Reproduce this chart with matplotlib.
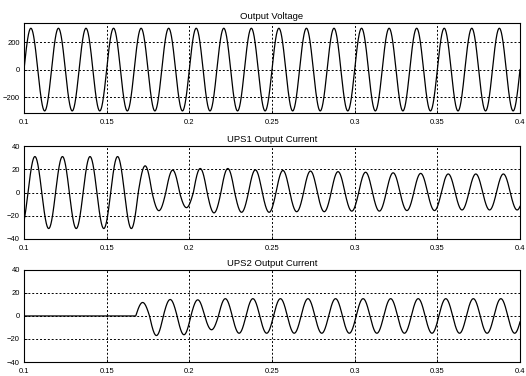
import numpy as np
import matplotlib
matplotlib.use("Agg")
import matplotlib.pyplot as plt

plt.rcParams["font.family"] = ["Liberation Sans", "DejaVu Sans"]

### Data

titles = ["Output Voltage", "UPS1 Output Current", "UPS2 Output Current"]
xticks = [0.1, 0.15, 0.2, 0.25, 0.3, 0.35, 0.4]
xticklabels = ["0.1", "0.15", "0.2", "0.25", "0.3", "0.35", "0.4"]
yticks_v = [-200, 0, 200]
yticks_i = [-40, -20, 0, 20, 40]

freq = 60.0            # Hz
v_amp = 300.0          # output voltage peak

# UPS1: rising zero crossing reference and signed peak of each half cycle
ups1_t0 = 0.0941
ups1_peaks = [-31, 31, -31, 31, -31, 31, -31, 31, -31, 23,
              -15.6, 19.3, -13, 20.7, -17.5, 20.7, -17, 19.5, -17, 19,
              -16.5, 18.5, -16.5, 18, -16, 17.5, -16, 17, -15.5, 16.5,
              -15.5, 16, -15, 16, -15, 16, -15, 16]

# UPS2: off until ~0.1676 s, then joins in
ups2_t0 = 0.0926
ups2_peaks = [0, 0, 0, 0, 0, 0, 0, 0, 0, 11.7,
              -17, 14.3, -16.3, 14, -12, 15, -15, 15, -15, 15,
              -15, 15, -15, 15, -15, 15, -15, 15, -15, 15,
              -15, 15, -15, 15, -15, 15, -15, 15]

t = np.linspace(0.1, 0.4, 4001)


def half_cycles(t, t0, peaks):
    half = 1.0 / (2 * freq)
    k = np.floor((t - t0) / half).astype(int)
    k = np.clip(k, 0, len(peaks) - 1)
    ph = (t - t0 - k * half) / half
    return np.array(peaks)[k] * np.sin(np.pi * ph)


v = v_amp * np.sin(2 * np.pi * freq * t)
i1 = half_cycles(t, ups1_t0, ups1_peaks)
i2 = half_cycles(t, ups2_t0, ups2_peaks)

### Draw

fig = plt.figure(figsize=(5.26, 3.76), dpi=100)
ax0 = fig.add_axes([0.0456, 0.6995, 0.943, 0.240])
ax1 = fig.add_axes([0.0456, 0.3644, 0.943, 0.247])
ax2 = fig.add_axes([0.0456, 0.0372, 0.943, 0.245])

traces = [v, i1, i2]
axes = [ax0, ax1, ax2]
for n in range(3):
    ax = axes[n]
    ax.plot(t, traces[n], color="black", lw=0.9)
    ax.set_xlim(0.1, 0.4)
    ax.set_xticks(xticks)
    ax.set_xticklabels(xticklabels)
    if n == 0:
        ax.set_ylim(-315, 340)
        ax.set_yticks(yticks_v)
    else:
        ax.set_ylim(-40, 40)
        ax.set_yticks(yticks_i)
    ax.grid(True, color="black", linestyle=(0, (2, 2)), lw=0.7)
    ax.tick_params(direction="in", length=2, width=0.6, labelsize=5.5)
    ax.tick_params(axis="x", pad=4)
    ax.tick_params(axis="y", pad=3)
    for s in ax.spines.values():
        s.set_linewidth(0.8)
    ax.set_title(titles[n], fontsize=6.8, pad=3)

fig.savefig("out.png", dpi=100)
